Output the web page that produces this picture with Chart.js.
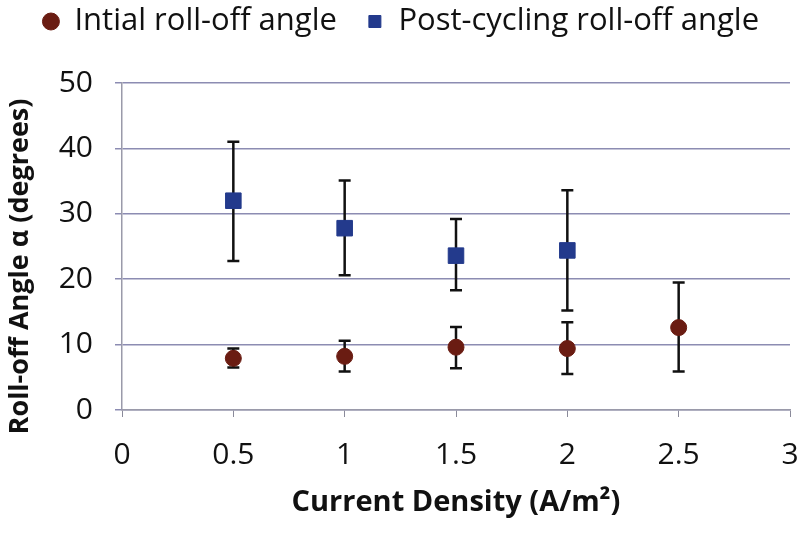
<!DOCTYPE html>
<html>
<head>
<meta charset="utf-8">
<script src="https://cdn.jsdelivr.net/npm/chart.js@4"></script>
<style>
  html, body { margin: 0; padding: 0; background: #fff; }
  #wrap { width: 802px; height: 538px; }
</style>
</head>
<body>
<div id="wrap"><canvas id="rollOffChart"></canvas></div>
<script>
// values
const initialDensity = [0.5, 1, 1.5, 2, 2.5];
const initialAngle = [7.9, 8.2, 9.6, 9.4, 12.6];
const initialUpper = [9.4, 10.6, 12.7, 13.4, 19.5];
const initialLower = [6.5, 5.9, 6.4, 5.5, 5.9];

const postDensity = [0.5, 1, 1.5, 2];
const postAngle = [32.0, 27.8, 23.6, 24.4];
const postUpper = [41.0, 35.1, 29.2, 33.6];
const postLower = [22.8, 20.6, 18.3, 15.2];

const FONT = '"Open Sans", "Liberation Sans", sans-serif';
const LEGEND_PAD = 30;

// draws the vertical error bars with caps, behind the markers
const errorBars = {
    id: 'errorBars',
    beforeDatasetsDraw(chart) {
        const { ctx, scales: { x, y } } = chart;
        ctx.save();
        ctx.strokeStyle = '#111';
        ctx.lineWidth = 2.5;
        chart.data.datasets.forEach(ds => {
            ds.data.forEach(pt => {
                const px = x.getPixelForValue(pt.x);
                const top = y.getPixelForValue(pt.hi);
                const bot = y.getPixelForValue(pt.lo);
                ctx.beginPath();
                ctx.moveTo(px, top); ctx.lineTo(px, bot);
                ctx.moveTo(px - 6, top); ctx.lineTo(px + 6, top);
                ctx.moveTo(px - 6, bot); ctx.lineTo(px + 6, bot);
                ctx.stroke();
            });
        });
        ctx.restore();
    }
};

// legend sits high, with a gap under it before the plot
const legendGap = {
    id: 'legendGap',
    afterInit(chart) {
        const lg = chart.legend;
        const origFit = lg.fit.bind(lg);
        const origDraw = lg.draw.bind(lg);
        lg.fit = function() {
            origFit();
            this.height = Math.max(this.height, 83);
        };
        lg.draw = function() {
            chart.ctx.save();
            chart.ctx.translate(0, 6 - LEGEND_PAD);
            origDraw();
            chart.ctx.restore();
        };
    },
    // y title sits a bit below the middle of the axis in the original
    afterUpdate(chart) {
        const s = chart.scales.y;
        if (s._titleShifted) return;
        const origTitle = s.drawTitle.bind(s);
        s.drawTitle = function() {
            this.ctx.save();
            this.ctx.translate(0, 20);
            origTitle();
            this.ctx.restore();
        };
        s._titleShifted = true;
    }
};

const toPoints = (xs, ys, hi, lo) => xs.map((v, i) => ({ x: v, y: ys[i], hi: hi[i], lo: lo[i] }));

new Chart(document.getElementById('rollOffChart'), {
    type: 'scatter',
    data: {
        datasets: [
            {
                label: 'Intial roll-off angle',
                data: toPoints(initialDensity, initialAngle, initialUpper, initialLower),
                pointStyle: 'circle',
                pointRadius: 8,
                backgroundColor: '#6a1c12',
                borderColor: '#6a1c12'
            },
            {
                label: 'Post-cycling roll-off angle',
                data: toPoints(postDensity, postAngle, postUpper, postLower),
                pointStyle: 'rect',
                pointRadius: 11,
                backgroundColor: '#233a8c',
                borderColor: '#233a8c'
            }
        ]
    },
    options: {
        responsive: true,
        maintainAspectRatio: false,
        animation: false,
        layout: { padding: 0 },
        plugins: {
            tooltip: { enabled: false },
            legend: {
                position: 'top',
                labels: {
                    usePointStyle: true,
                    boxWidth: 16,
                    boxHeight: 12,
                    padding: LEGEND_PAD,
                    color: '#111',
                    font: { family: FONT, size: 31 }
                }
            }
        },
        scales: {
            x: {
                type: 'linear',
                min: 0,
                max: 3,
                ticks: {
                    stepSize: 0.5,
                    color: '#111',
                    padding: 20,
                    font: { family: FONT, size: 30 },
                    callback: v => String(v)
                },
                grid: { display: true, drawOnChartArea: false, drawTicks: true, tickLength: 7, color: '#8a8a9a' },
                border: { color: '#9a9aaa', width: 1.5 },
                title: {
                    display: true,
                    text: 'Current Density (A/m²)',
                    color: '#111',
                    font: { family: FONT, size: 29, weight: 'bold' },
                    padding: { top: 0, bottom: 18 }
                },
                afterFit(scale) {
                    scale.height = 128;
                    scale.paddingRight = 10;
                }
            },
            y: {
                min: 0,
                max: 50,
                ticks: {
                    stepSize: 10,
                    color: '#111',
                    padding: 22,
                    font: { family: FONT, size: 30 }
                },
                grid: { color: '#8c8cb2', lineWidth: 1.5, tickLength: 7 },
                border: { color: '#9a9aaa', width: 1.5 },
                title: {
                    display: true,
                    text: 'Roll-off Angle α (degrees)',
                    color: '#111',
                    font: { family: FONT, size: 27, weight: 'bold' },
                    padding: { bottom: 4 }
                },
                afterFit(scale) { scale.width = 122; }
            }
        }
    },
    plugins: [errorBars, legendGap]
});
</script>
</body>
</html>
